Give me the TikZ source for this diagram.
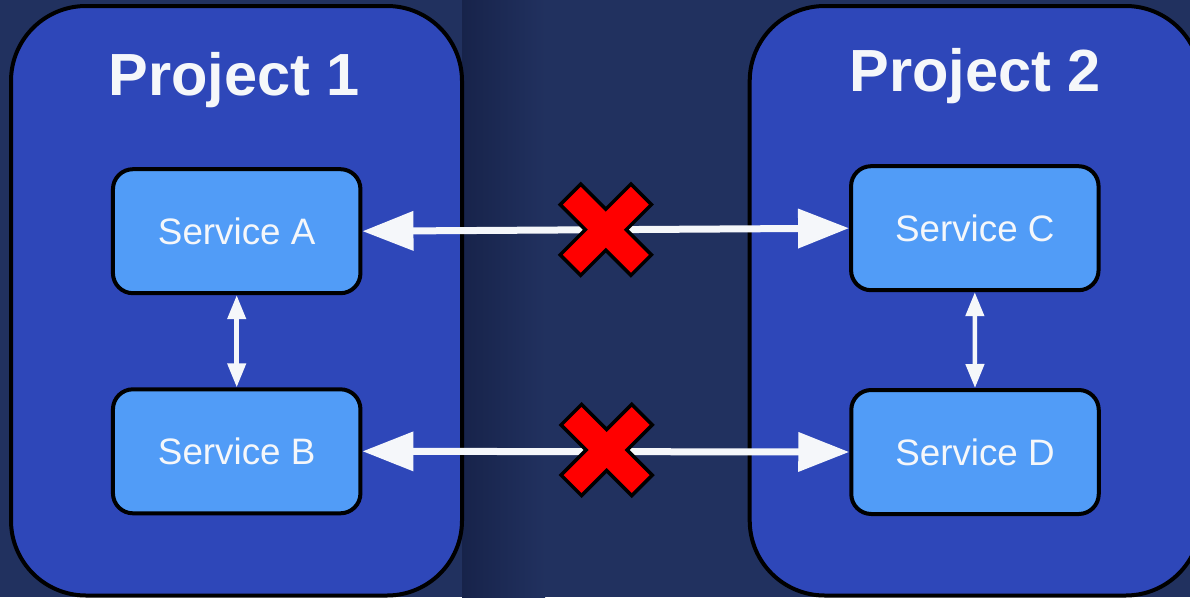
\documentclass[tikz,border=0pt]{standalone}
\usepackage{fontspec}
\setmainfont{Liberation Sans}
\usetikzlibrary{arrows.meta}
\definecolor{bg}{HTML}{21315F}
\definecolor{shadowc}{HTML}{17234A}
\definecolor{projfill}{HTML}{2E47B9}
\definecolor{svcfill}{HTML}{519CF7}
\definecolor{ink}{HTML}{F5F7FA}
\definecolor{crossred}{HTML}{FF0000}

\begin{document}
\begin{tikzpicture}[x=1pt,y=-1pt,
  project/.style={draw=black,line width=4pt,fill=projfill,rounded corners=75pt},
  service/.style={draw=black,line width=4pt,fill=svcfill,rounded corners=20pt,
    minimum width=247.5pt,minimum height=124pt,inner sep=0pt,text=ink,
    font=\fontsize{36.8}{40}\selectfont},
  title/.style={text=ink,font=\fontsize{59.5}{64}\selectfont\bfseries,anchor=base,inner sep=0pt},
  link/.style={draw=ink,line width=7pt,
    {Triangle[length=51pt,width=38pt]}-{Triangle[length=51pt,width=38pt]}},
  uplink/.style={draw=ink,line width=4.5pt,
    {Triangle[length=24pt,width=18pt]}-{Triangle[length=24pt,width=18pt]}},
  blocked/.style={draw=black,line width=3.5pt,fill=crossred,line join=miter},
  pics/nogo/.style={code={
    \begin{scope}[rotate=45]
      \draw[blocked] (14.5,50) -- (14.5,14.5) -- (50,14.5) -- (50,-14.5)
        -- (14.5,-14.5) -- (14.5,-50) -- (-14.5,-50) -- (-14.5,-14.5)
        -- (-50,-14.5) -- (-50,14.5) -- (-14.5,14.5) -- (-14.5,50) -- cycle;
    \end{scope}}}
]
\useasboundingbox (0,0) rectangle (1190,597);
\clip (0,0) rectangle (1190,597);

% backdrop and the soft shadow cast by the first project panel
\fill[bg] (0,0) rectangle (1190,597);
\shade[left color=shadowc,right color=bg] (462,0) rectangle (545,597);

% project panels
\draw[project] (11,6) rectangle (462,595.5);
\draw[project] (749.7,6) rectangle (1200.7,595.5);
\node[title] (p1) at (234,95) {Project 1};
\node[title] (p2) at (975,91) {Project 2};

% services
\node[service] (A) at (236.7,231.2) {Service A};
\node[service] (B) at (236.7,451.3) {Service B};
\node[service] (C) at (974.8,228.2) {Service C};
\node[service] (D) at (975,452) {Service D};

% links inside each project
\draw[uplink] (A.south) -- (B.north);
\draw[uplink] (C.south) -- (D.north);

% links across projects, both blocked
\draw[link] (A.east) -- (C.west);
\draw[link] (B.east) -- (D.west);
\pic (x1) at (605.8,229.7) {nogo};
\pic (x2) at (606.7,450) {nogo};
\end{tikzpicture}
\end{document}
